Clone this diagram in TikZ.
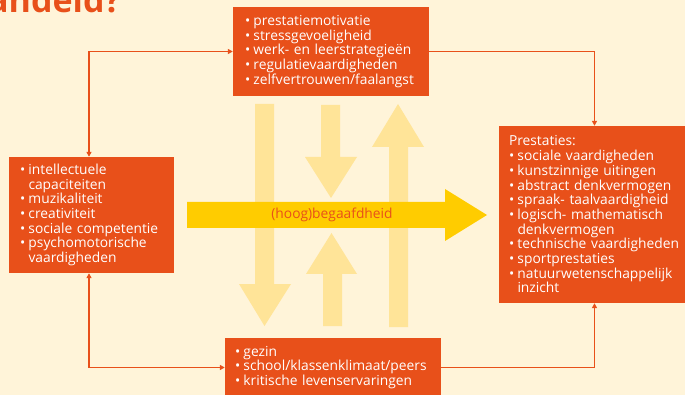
\documentclass[tikz,border=0pt]{standalone}
\usepackage{fontspec}
\setmainfont{Open Sans}
\usetikzlibrary{arrows.meta,calc}
\definecolor{bg}{RGB}{255,244,217}
\definecolor{org}{RGB}{232,80,26}
\definecolor{pale}{RGB}{255,228,152}
\definecolor{gold}{RGB}{255,204,0}
\newcommand\bu{\makebox[8.5pt][l]{•}}
\newcommand\ind{\hspace*{8.5pt}}
\begin{document}
\begin{tikzpicture}[x=1pt,y=-1pt,
  box/.style={fill=org, text=white, align=left, font=\fontsize{13.8}{14.7}\selectfont, inner ysep=0pt, anchor=center},
  conn/.style={draw=org, line width=1.3pt},
  tip/.style={-{Triangle[length=5pt,width=5pt]}},
  tips/.style={{Triangle[length=5pt,width=5pt]}-{Triangle[length=5pt,width=5pt]}},
  palearrow/.style={fill=pale},
  goldarrow/.style={fill=gold}]
\fill[bg] (0,0) rectangle (685,395);
\useasboundingbox (0,0) rectangle (685,395);
% title fragment
\node[anchor=base east, text=org, inner sep=0pt, font=\fontsize{34}{34}\selectfont\bfseries] (title) at (121,13) {behandeld?};
% pale arrows
\fill[palearrow] (255,104)--(274,104)--(274,284)--(291,284)--(264.5,326)--(239,284)--(255,284)--cycle;
\fill[palearrow] (321,105)--(340,105)--(340,157)--(357,157)--(331,198)--(305,157)--(321,157)--cycle;
\fill[palearrow] (323,326)--(342,326)--(342,274)--(357,274)--(331.5,233)--(306,274)--(323,274)--cycle;
\fill[palearrow] (389,327)--(408,327)--(408,147)--(424,147)--(398,104)--(372,147)--(389,147)--cycle;
% gold arrow
\fill[goldarrow] (187,202)--(445,202)--(445,189)--(487,215)--(445,241)--(445,228)--(187,228)--cycle;
\node[text=org, font=\fontsize{13.8}{14}\selectfont] (gift) at (332,215) {(hoog)begaafdheid};
% boxes
\node[box, minimum width=196pt, minimum height=89pt, inner xsep=12pt, text width=172pt] (top) at (331,51.5) {\bu prestatiemotivatie\\ \bu stressgevoeligheid\\ \bu werk- en leerstrategieën\\ \bu regulatievaardigheden\\ \bu zelfvertrouwen/faalangst};
\node[box, minimum width=165pt, minimum height=116pt, inner xsep=11pt, text width=143pt] (left) at (91.5,215) {\bu intellectuele\\ \ind capaciteiten\\ \bu muzikaliteit\\ \bu creativiteit\\ \bu sociale competentie\\ \bu psychomotorische\\ \ind vaardigheden};
\node[box, minimum width=191pt, minimum height=177pt, inner xsep=10pt, text width=171pt] (right) at (594.5,214.5) {Prestaties:\\ \bu sociale vaardigheden\\ \bu kunstzinnige uitingen\\ \bu abstract denkvermogen\\ \bu spraak- taalvaardigheid\\ \bu logisch- mathematisch\\ \ind denkvermogen\\ \bu technische vaardigheden\\ \bu sportprestaties\\ \bu natuurwetenschappelijk\\ \ind inzicht};
\node[box, minimum width=216pt, minimum height=59pt, inner xsep=10pt, text width=196pt] (bottom) at (333,367.5) {\bu gezin\\ \bu school/klassenklimaat/peers\\ \bu kritische levenservaringen};
% connectors
\draw[conn, tips] ([xshift=-2.5pt]left.north) |- (top.west);
\draw[conn, tip] (top.east) -| (right.north);
\draw[conn, tips] ([xshift=-2.5pt]left.south) |- (bottom.west);
\draw[conn, tip] (bottom.east) -| (right.south);
\end{tikzpicture}
\end{document}
